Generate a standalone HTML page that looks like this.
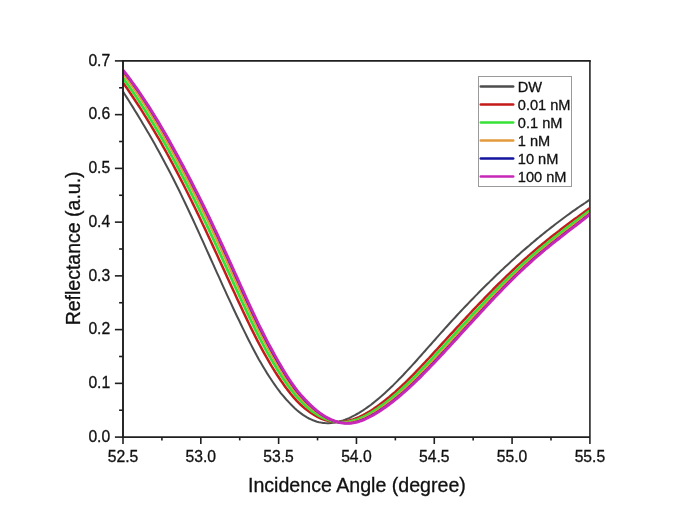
<!DOCTYPE html>
<html><head><meta charset="utf-8"><title>Reflectance vs Incidence Angle</title>
<style>
html,body{margin:0;padding:0;background:#fff;}
body{width:685px;height:524px;overflow:hidden;}
svg{display:block;}
text{font-family:"Liberation Sans",Arial,sans-serif;fill:#111;stroke:#111;stroke-width:0.3px;}
</style></head><body>
<svg width="685" height="524" viewBox="0 0 685 524">
<rect width="685" height="524" fill="#ffffff"/>
<defs><clipPath id="c"><rect x="123.0" y="60.9" width="466.9" height="376.20000000000005"/></clipPath></defs>
<g clip-path="url(#c)">
<path d="M123.0,91.6 L125.0,94.7 L127.0,97.9 L129.0,101.0 L131.0,104.2 L133.0,107.4 L135.0,110.7 L137.0,113.9 L139.0,117.2 L141.0,120.5 L143.0,123.9 L145.0,127.3 L147.0,130.7 L149.0,134.1 L151.0,137.6 L153.0,141.1 L155.0,144.6 L157.0,148.2 L159.0,151.8 L161.0,155.5 L163.0,159.2 L165.0,162.9 L167.0,166.7 L169.0,170.5 L171.0,174.4 L173.0,178.3 L175.0,182.3 L177.0,186.3 L179.0,190.3 L181.0,194.4 L183.0,198.6 L185.0,202.8 L187.0,207.0 L189.0,211.2 L191.0,215.5 L193.0,219.8 L195.0,224.2 L197.0,228.5 L199.0,232.9 L201.0,237.3 L203.0,241.7 L205.0,246.2 L207.0,250.6 L209.0,255.0 L211.0,259.5 L213.0,263.9 L215.0,268.4 L217.0,272.8 L219.0,277.2 L221.0,281.7 L223.0,286.1 L225.0,290.4 L227.0,294.8 L229.0,299.1 L231.0,303.4 L233.0,307.7 L235.0,312.0 L237.0,316.2 L239.0,320.3 L241.0,324.5 L243.0,328.6 L245.0,332.6 L247.0,336.7 L249.0,340.7 L251.0,344.6 L253.0,348.5 L255.0,352.3 L257.0,356.1 L259.0,359.7 L261.0,363.1 L263.0,366.5 L265.0,369.8 L267.0,373.1 L269.0,376.2 L271.0,379.3 L273.0,382.3 L275.0,385.2 L277.0,388.0 L279.0,390.7 L281.0,393.3 L283.0,395.7 L285.0,398.0 L287.0,400.3 L289.0,402.4 L291.0,404.5 L293.0,406.5 L295.0,408.4 L297.0,410.2 L299.0,411.9 L301.0,413.4 L303.0,414.9 L305.0,416.2 L307.0,417.4 L309.0,418.5 L311.0,419.4 L313.0,420.3 L315.0,421.0 L317.0,421.7 L319.0,422.2 L321.0,422.6 L323.0,422.9 L325.0,423.1 L327.0,423.2 L329.0,423.2 L331.0,423.0 L333.0,422.8 L335.0,422.5 L337.0,422.1 L339.0,421.6 L341.0,421.0 L343.0,420.4 L345.0,419.7 L347.0,418.9 L349.0,418.1 L351.0,417.2 L353.0,416.2 L355.0,415.2 L357.0,414.0 L359.0,412.9 L361.0,411.6 L363.0,410.4 L365.0,409.0 L367.0,407.6 L369.0,406.2 L371.0,404.7 L373.0,403.1 L375.0,401.5 L377.0,399.9 L379.0,398.2 L381.0,396.5 L383.0,394.7 L385.0,392.9 L387.0,391.1 L389.0,389.2 L391.0,387.3 L393.0,385.4 L395.0,383.4 L397.0,381.4 L399.0,379.3 L401.0,377.3 L403.0,375.2 L405.0,373.0 L407.0,370.9 L409.0,368.8 L411.0,366.6 L413.0,364.4 L415.0,362.2 L417.0,360.0 L419.0,357.7 L421.0,355.5 L423.0,353.2 L425.0,351.0 L427.0,348.7 L429.0,346.4 L431.0,344.2 L433.0,341.9 L435.0,339.7 L437.0,337.4 L439.0,335.1 L441.0,332.9 L443.0,330.7 L445.0,328.4 L447.0,326.2 L449.0,324.0 L451.0,321.8 L453.0,319.6 L455.0,317.5 L457.0,315.3 L459.0,313.1 L461.0,311.0 L463.0,308.9 L465.0,306.8 L467.0,304.7 L469.0,302.6 L471.0,300.5 L473.0,298.5 L475.0,296.4 L477.0,294.4 L479.0,292.3 L481.0,290.3 L483.0,288.3 L485.0,286.3 L487.0,284.3 L489.0,282.4 L491.0,280.4 L493.0,278.5 L495.0,276.5 L497.0,274.6 L499.0,272.7 L501.0,270.8 L503.0,269.0 L505.0,267.1 L507.0,265.2 L509.0,263.4 L511.0,261.6 L513.0,259.7 L515.0,257.9 L517.0,256.1 L519.0,254.4 L521.0,252.6 L523.0,250.8 L525.0,249.1 L527.0,247.4 L529.0,245.7 L531.0,243.9 L533.0,242.3 L535.0,240.6 L537.0,238.9 L539.0,237.3 L541.0,235.6 L543.0,234.0 L545.0,232.4 L547.0,230.8 L549.0,229.2 L551.0,227.6 L553.0,226.1 L555.0,224.5 L557.0,223.0 L559.0,221.5 L561.0,220.0 L563.0,218.5 L565.0,217.0 L567.0,215.5 L569.0,214.1 L571.0,212.6 L573.0,211.2 L575.0,209.8 L577.0,208.4 L579.0,207.0 L581.0,205.7 L583.0,204.3 L585.0,203.0 L587.0,201.6 L589.9,199.7" fill="none" stroke="#4d4d4d" stroke-width="2.05" stroke-linejoin="round"/>
<path d="M123.0,82.6 L125.0,85.5 L127.0,88.3 L129.0,91.2 L131.0,94.2 L133.0,97.2 L135.0,100.2 L137.0,103.2 L139.0,106.3 L141.0,109.4 L143.0,112.6 L145.0,115.8 L147.0,119.0 L149.0,122.3 L151.0,125.6 L153.0,129.0 L155.0,132.4 L157.0,135.8 L159.0,139.2 L161.0,142.7 L163.0,146.3 L165.0,149.9 L167.0,153.5 L169.0,157.1 L171.0,160.8 L173.0,164.5 L175.0,168.3 L177.0,172.1 L179.0,176.0 L181.0,179.9 L183.0,183.8 L185.0,187.8 L187.0,191.7 L189.0,195.8 L191.0,199.8 L193.0,203.9 L195.0,208.0 L197.0,212.1 L199.0,216.3 L201.0,220.5 L203.0,224.7 L205.0,228.9 L207.0,233.2 L209.0,237.5 L211.0,241.8 L213.0,246.1 L215.0,250.5 L217.0,254.8 L219.0,259.2 L221.0,263.6 L223.0,267.9 L225.0,272.3 L227.0,276.7 L229.0,281.0 L231.0,285.4 L233.0,289.7 L235.0,294.0 L237.0,298.4 L239.0,302.6 L241.0,306.9 L243.0,311.2 L245.0,315.4 L247.0,319.6 L249.0,323.7 L251.0,327.9 L253.0,331.9 L255.0,335.9 L257.0,339.9 L259.0,343.7 L261.0,347.4 L263.0,351.1 L265.0,354.7 L267.0,358.2 L269.0,361.7 L271.0,365.1 L273.0,368.3 L275.0,371.6 L277.0,374.7 L279.0,377.8 L281.0,380.8 L283.0,383.6 L285.0,386.4 L287.0,389.1 L289.0,391.6 L291.0,394.2 L293.0,396.6 L295.0,398.9 L297.0,401.1 L299.0,403.1 L301.0,405.0 L303.0,406.8 L305.0,408.5 L307.0,410.1 L309.0,411.6 L311.0,413.0 L313.0,414.3 L315.0,415.5 L317.0,416.6 L319.0,417.6 L321.0,418.5 L323.0,419.3 L325.0,420.0 L327.0,420.6 L329.0,421.1 L331.0,421.4 L333.0,421.7 L335.0,421.9 L337.0,422.0 L339.0,421.9 L341.0,421.8 L343.0,421.7 L345.0,421.4 L347.0,421.0 L349.0,420.6 L351.0,420.0 L353.0,419.4 L355.0,418.7 L357.0,417.9 L359.0,417.1 L361.0,416.1 L363.0,415.1 L365.0,414.0 L367.0,412.9 L369.0,411.7 L371.0,410.5 L373.0,409.2 L375.0,407.8 L377.0,406.4 L379.0,405.0 L381.0,403.5 L383.0,402.0 L385.0,400.4 L387.0,398.8 L389.0,397.2 L391.0,395.5 L393.0,393.8 L395.0,392.1 L397.0,390.3 L399.0,388.5 L401.0,386.6 L403.0,384.7 L405.0,382.8 L407.0,380.9 L409.0,378.9 L411.0,376.9 L413.0,374.9 L415.0,372.8 L417.0,370.7 L419.0,368.7 L421.0,366.5 L423.0,364.4 L425.0,362.3 L427.0,360.1 L429.0,358.0 L431.0,355.8 L433.0,353.6 L435.0,351.4 L437.0,349.3 L439.0,347.1 L441.0,344.9 L443.0,342.7 L445.0,340.5 L447.0,338.3 L449.0,336.1 L451.0,333.9 L453.0,331.8 L455.0,329.6 L457.0,327.4 L459.0,325.3 L461.0,323.1 L463.0,320.9 L465.0,318.8 L467.0,316.6 L469.0,314.5 L471.0,312.4 L473.0,310.2 L475.0,308.1 L477.0,306.0 L479.0,303.9 L481.0,301.8 L483.0,299.8 L485.0,297.7 L487.0,295.6 L489.0,293.6 L491.0,291.6 L493.0,289.5 L495.0,287.5 L497.0,285.5 L499.0,283.5 L501.0,281.6 L503.0,279.6 L505.0,277.7 L507.0,275.7 L509.0,273.8 L511.0,271.9 L513.0,270.0 L515.0,268.1 L517.0,266.2 L519.0,264.4 L521.0,262.6 L523.0,260.7 L525.0,258.9 L527.0,257.2 L529.0,255.4 L531.0,253.6 L533.0,251.9 L535.0,250.2 L537.0,248.5 L539.0,246.8 L541.0,245.2 L543.0,243.5 L545.0,241.9 L547.0,240.3 L549.0,238.7 L551.0,237.1 L553.0,235.5 L555.0,233.9 L557.0,232.4 L559.0,230.9 L561.0,229.3 L563.0,227.8 L565.0,226.3 L567.0,224.8 L569.0,223.3 L571.0,221.8 L573.0,220.3 L575.0,218.8 L577.0,217.4 L579.0,215.9 L581.0,214.4 L583.0,213.0 L585.0,211.5 L587.0,210.1 L589.9,207.9" fill="none" stroke="#c41a1a" stroke-width="2.5" stroke-linejoin="round"/>
<path d="M123.0,78.1 L125.0,80.8 L127.0,83.6 L129.0,86.4 L131.0,89.2 L133.0,92.1 L135.0,95.0 L137.0,98.0 L139.0,101.0 L141.0,104.1 L143.0,107.2 L145.0,110.3 L147.0,113.5 L149.0,116.7 L151.0,119.9 L153.0,123.2 L155.0,126.6 L157.0,129.9 L159.0,133.4 L161.0,136.8 L163.0,140.3 L165.0,143.8 L167.0,147.4 L169.0,151.0 L171.0,154.6 L173.0,158.3 L175.0,162.0 L177.0,165.7 L179.0,169.5 L181.0,173.3 L183.0,177.2 L185.0,181.0 L187.0,185.0 L189.0,188.9 L191.0,192.9 L193.0,196.9 L195.0,200.9 L197.0,205.0 L199.0,209.0 L201.0,213.1 L203.0,217.3 L205.0,221.5 L207.0,225.7 L209.0,229.9 L211.0,234.1 L213.0,238.4 L215.0,242.7 L217.0,247.0 L219.0,251.4 L221.0,255.7 L223.0,260.1 L225.0,264.4 L227.0,268.8 L229.0,273.2 L231.0,277.5 L233.0,281.9 L235.0,286.3 L237.0,290.6 L239.0,295.0 L241.0,299.3 L243.0,303.6 L245.0,307.9 L247.0,312.1 L249.0,316.4 L251.0,320.6 L253.0,324.7 L255.0,328.8 L257.0,332.8 L259.0,336.8 L261.0,340.6 L263.0,344.4 L265.0,348.1 L267.0,351.8 L269.0,355.4 L271.0,358.9 L273.0,362.3 L275.0,365.6 L277.0,368.9 L279.0,372.2 L281.0,375.3 L283.0,378.4 L285.0,381.3 L287.0,384.2 L289.0,387.0 L291.0,389.7 L293.0,392.2 L295.0,394.7 L297.0,397.1 L299.0,399.3 L301.0,401.3 L303.0,403.3 L305.0,405.2 L307.0,407.0 L309.0,408.7 L311.0,410.3 L313.0,411.8 L315.0,413.2 L317.0,414.5 L319.0,415.7 L321.0,416.8 L323.0,417.8 L325.0,418.7 L327.0,419.5 L329.0,420.2 L331.0,420.8 L333.0,421.2 L335.0,421.6 L337.0,421.9 L339.0,422.1 L341.0,422.2 L343.0,422.2 L345.0,422.1 L347.0,421.9 L349.0,421.6 L351.0,421.2 L353.0,420.7 L355.0,420.1 L357.0,419.5 L359.0,418.7 L361.0,417.9 L363.0,417.0 L365.0,416.0 L367.0,414.9 L369.0,413.8 L371.0,412.7 L373.0,411.4 L375.0,410.1 L377.0,408.8 L379.0,407.4 L381.0,406.0 L383.0,404.6 L385.0,403.1 L387.0,401.5 L389.0,400.0 L391.0,398.4 L393.0,396.7 L395.0,395.1 L397.0,393.3 L399.0,391.6 L401.0,389.8 L403.0,388.0 L405.0,386.1 L407.0,384.3 L409.0,382.3 L411.0,380.4 L413.0,378.4 L415.0,376.4 L417.0,374.4 L419.0,372.4 L421.0,370.3 L423.0,368.2 L425.0,366.1 L427.0,364.0 L429.0,361.9 L431.0,359.8 L433.0,357.6 L435.0,355.5 L437.0,353.3 L439.0,351.1 L441.0,349.0 L443.0,346.8 L445.0,344.6 L447.0,342.4 L449.0,340.2 L451.0,338.1 L453.0,335.9 L455.0,333.7 L457.0,331.5 L459.0,329.4 L461.0,327.2 L463.0,325.0 L465.0,322.9 L467.0,320.7 L469.0,318.6 L471.0,316.4 L473.0,314.3 L475.0,312.1 L477.0,310.0 L479.0,307.9 L481.0,305.7 L483.0,303.6 L485.0,301.5 L487.0,299.5 L489.0,297.4 L491.0,295.3 L493.0,293.3 L495.0,291.2 L497.0,289.2 L499.0,287.2 L501.0,285.2 L503.0,283.2 L505.0,281.2 L507.0,279.2 L509.0,277.2 L511.0,275.3 L513.0,273.4 L515.0,271.5 L517.0,269.6 L519.0,267.7 L521.0,265.8 L523.0,264.0 L525.0,262.2 L527.0,260.4 L529.0,258.6 L531.0,256.8 L533.0,255.1 L535.0,253.3 L537.0,251.6 L539.0,249.9 L541.0,248.3 L543.0,246.6 L545.0,245.0 L547.0,243.3 L549.0,241.7 L551.0,240.1 L553.0,238.5 L555.0,237.0 L557.0,235.4 L559.0,233.9 L561.0,232.3 L563.0,230.8 L565.0,229.2 L567.0,227.7 L569.0,226.2 L571.0,224.7 L573.0,223.2 L575.0,221.7 L577.0,220.2 L579.0,218.7 L581.0,217.2 L583.0,215.7 L585.0,214.2 L587.0,212.7 L589.9,210.5" fill="none" stroke="#36e236" stroke-width="2.8" stroke-linejoin="round"/>
<path d="M123.0,73.8 L125.0,76.4 L127.0,79.1 L129.0,81.8 L131.0,84.6 L133.0,87.4 L135.0,90.2 L137.0,93.1 L139.0,96.1 L141.0,99.1 L143.0,102.1 L145.0,105.2 L147.0,108.3 L149.0,111.5 L151.0,114.7 L153.0,118.0 L155.0,121.3 L157.0,124.6 L159.0,128.0 L161.0,131.4 L163.0,134.9 L165.0,138.4 L167.0,141.9 L169.0,145.5 L171.0,149.1 L173.0,152.7 L175.0,156.4 L177.0,160.1 L179.0,163.8 L181.0,167.6 L183.0,171.4 L185.0,175.2 L187.0,179.1 L189.0,183.0 L191.0,186.9 L193.0,190.8 L195.0,194.8 L197.0,198.8 L199.0,202.9 L201.0,206.9 L203.0,211.0 L205.0,215.1 L207.0,219.2 L209.0,223.4 L211.0,227.6 L213.0,231.8 L215.0,236.1 L217.0,240.4 L219.0,244.7 L221.0,249.0 L223.0,253.4 L225.0,257.7 L227.0,262.1 L229.0,266.5 L231.0,270.9 L233.0,275.2 L235.0,279.6 L237.0,284.0 L239.0,288.4 L241.0,292.8 L243.0,297.2 L245.0,301.5 L247.0,305.8 L249.0,310.1 L251.0,314.4 L253.0,318.6 L255.0,322.7 L257.0,326.8 L259.0,330.9 L261.0,334.8 L263.0,338.7 L265.0,342.5 L267.0,346.3 L269.0,350.0 L271.0,353.6 L273.0,357.1 L275.0,360.6 L277.0,364.0 L279.0,367.4 L281.0,370.7 L283.0,373.9 L285.0,377.0 L287.0,380.0 L289.0,383.0 L291.0,385.8 L293.0,388.6 L295.0,391.2 L297.0,393.7 L299.0,396.0 L301.0,398.2 L303.0,400.3 L305.0,402.3 L307.0,404.3 L309.0,406.1 L311.0,407.9 L313.0,409.6 L315.0,411.1 L317.0,412.6 L319.0,414.0 L321.0,415.3 L323.0,416.5 L325.0,417.5 L327.0,418.5 L329.0,419.4 L331.0,420.2 L333.0,420.8 L335.0,421.4 L337.0,421.9 L339.0,422.2 L341.0,422.5 L343.0,422.6 L345.0,422.7 L347.0,422.6 L349.0,422.5 L351.0,422.2 L353.0,421.8 L355.0,421.3 L357.0,420.8 L359.0,420.1 L361.0,419.4 L363.0,418.5 L365.0,417.6 L367.0,416.7 L369.0,415.6 L371.0,414.5 L373.0,413.3 L375.0,412.1 L377.0,410.8 L379.0,409.5 L381.0,408.2 L383.0,406.8 L385.0,405.3 L387.0,403.8 L389.0,402.3 L391.0,400.8 L393.0,399.2 L395.0,397.6 L397.0,395.9 L399.0,394.2 L401.0,392.5 L403.0,390.7 L405.0,388.9 L407.0,387.1 L409.0,385.2 L411.0,383.3 L413.0,381.4 L415.0,379.4 L417.0,377.5 L419.0,375.5 L421.0,373.4 L423.0,371.4 L425.0,369.3 L427.0,367.2 L429.0,365.2 L431.0,363.0 L433.0,360.9 L435.0,358.8 L437.0,356.7 L439.0,354.5 L441.0,352.3 L443.0,350.2 L445.0,348.0 L447.0,345.9 L449.0,343.7 L451.0,341.5 L453.0,339.3 L455.0,337.2 L457.0,335.0 L459.0,332.8 L461.0,330.6 L463.0,328.4 L465.0,326.3 L467.0,324.1 L469.0,321.9 L471.0,319.8 L473.0,317.6 L475.0,315.4 L477.0,313.3 L479.0,311.1 L481.0,309.0 L483.0,306.9 L485.0,304.7 L487.0,302.6 L489.0,300.5 L491.0,298.4 L493.0,296.3 L495.0,294.3 L497.0,292.2 L499.0,290.1 L501.0,288.1 L503.0,286.1 L505.0,284.1 L507.0,282.1 L509.0,280.1 L511.0,278.1 L513.0,276.1 L515.0,274.2 L517.0,272.3 L519.0,270.4 L521.0,268.5 L523.0,266.6 L525.0,264.8 L527.0,262.9 L529.0,261.1 L531.0,259.3 L533.0,257.6 L535.0,255.8 L537.0,254.1 L539.0,252.4 L541.0,250.7 L543.0,249.1 L545.0,247.4 L547.0,245.8 L549.0,244.1 L551.0,242.5 L553.0,240.9 L555.0,239.4 L557.0,237.8 L559.0,236.2 L561.0,234.7 L563.0,233.1 L565.0,231.6 L567.0,230.0 L569.0,228.5 L571.0,227.0 L573.0,225.4 L575.0,223.9 L577.0,222.4 L579.0,220.9 L581.0,219.3 L583.0,217.8 L585.0,216.3 L587.0,214.7 L589.9,212.5" fill="none" stroke="#e39a3c" stroke-width="2.4" stroke-linejoin="round"/>
<path d="M123.0,70.7 L125.0,73.2 L127.0,75.8 L129.0,78.5 L131.0,81.1 L133.0,83.9 L135.0,86.7 L137.0,89.5 L139.0,92.4 L141.0,95.4 L143.0,98.4 L145.0,101.4 L147.0,104.5 L149.0,107.6 L151.0,110.8 L153.0,114.0 L155.0,117.3 L157.0,120.6 L159.0,123.9 L161.0,127.3 L163.0,130.7 L165.0,134.2 L167.0,137.7 L169.0,141.2 L171.0,144.7 L173.0,148.3 L175.0,151.9 L177.0,155.6 L179.0,159.3 L181.0,163.0 L183.0,166.8 L185.0,170.5 L187.0,174.3 L189.0,178.2 L191.0,182.0 L193.0,185.9 L195.0,189.9 L197.0,193.8 L199.0,197.8 L201.0,201.8 L203.0,205.8 L205.0,209.9 L207.0,214.0 L209.0,218.1 L211.0,222.3 L213.0,226.5 L215.0,230.8 L217.0,235.0 L219.0,239.3 L221.0,243.7 L223.0,248.0 L225.0,252.4 L227.0,256.8 L229.0,261.2 L231.0,265.6 L233.0,270.0 L235.0,274.4 L237.0,278.9 L239.0,283.3 L241.0,287.7 L243.0,292.2 L245.0,296.6 L247.0,301.0 L249.0,305.3 L251.0,309.6 L253.0,313.9 L255.0,318.1 L257.0,322.3 L259.0,326.4 L261.0,330.4 L263.0,334.4 L265.0,338.3 L267.0,342.2 L269.0,346.0 L271.0,349.7 L273.0,353.3 L275.0,356.9 L277.0,360.4 L279.0,363.9 L281.0,367.3 L283.0,370.6 L285.0,373.8 L287.0,377.0 L289.0,380.1 L291.0,383.0 L293.0,385.9 L295.0,388.7 L297.0,391.3 L299.0,393.7 L301.0,396.0 L303.0,398.2 L305.0,400.3 L307.0,402.4 L309.0,404.4 L311.0,406.2 L313.0,408.0 L315.0,409.7 L317.0,411.3 L319.0,412.8 L321.0,414.2 L323.0,415.5 L325.0,416.8 L327.0,417.9 L329.0,418.9 L331.0,419.8 L333.0,420.6 L335.0,421.3 L337.0,421.8 L339.0,422.3 L341.0,422.7 L343.0,422.9 L345.0,423.1 L347.0,423.1 L349.0,423.1 L351.0,422.9 L353.0,422.6 L355.0,422.2 L357.0,421.7 L359.0,421.1 L361.0,420.4 L363.0,419.6 L365.0,418.8 L367.0,417.8 L369.0,416.8 L371.0,415.8 L373.0,414.6 L375.0,413.5 L377.0,412.2 L379.0,411.0 L381.0,409.6 L383.0,408.3 L385.0,406.9 L387.0,405.4 L389.0,404.0 L391.0,402.4 L393.0,400.9 L395.0,399.3 L397.0,397.7 L399.0,396.0 L401.0,394.3 L403.0,392.6 L405.0,390.9 L407.0,389.1 L409.0,387.2 L411.0,385.4 L413.0,383.5 L415.0,381.6 L417.0,379.6 L419.0,377.7 L421.0,375.7 L423.0,373.6 L425.0,371.6 L427.0,369.5 L429.0,367.5 L431.0,365.4 L433.0,363.3 L435.0,361.2 L437.0,359.1 L439.0,356.9 L441.0,354.8 L443.0,352.6 L445.0,350.5 L447.0,348.3 L449.0,346.2 L451.0,344.0 L453.0,341.8 L455.0,339.6 L457.0,337.5 L459.0,335.3 L461.0,333.1 L463.0,330.9 L465.0,328.7 L467.0,326.6 L469.0,324.4 L471.0,322.2 L473.0,320.0 L475.0,317.9 L477.0,315.7 L479.0,313.5 L481.0,311.4 L483.0,309.2 L485.0,307.1 L487.0,305.0 L489.0,302.8 L491.0,300.7 L493.0,298.6 L495.0,296.5 L497.0,294.4 L499.0,292.3 L501.0,290.3 L503.0,288.2 L505.0,286.2 L507.0,284.2 L509.0,282.2 L511.0,280.2 L513.0,278.2 L515.0,276.2 L517.0,274.3 L519.0,272.4 L521.0,270.4 L523.0,268.6 L525.0,266.7 L527.0,264.9 L529.0,263.0 L531.0,261.2 L533.0,259.4 L535.0,257.7 L537.0,256.0 L539.0,254.2 L541.0,252.5 L543.0,250.9 L545.0,249.2 L547.0,247.6 L549.0,245.9 L551.0,244.3 L553.0,242.7 L555.0,241.1 L557.0,239.5 L559.0,238.0 L561.0,236.4 L563.0,234.8 L565.0,233.3 L567.0,231.7 L569.0,230.2 L571.0,228.7 L573.0,227.1 L575.0,225.6 L577.0,224.0 L579.0,222.5 L581.0,220.9 L583.0,219.4 L585.0,217.8 L587.0,216.2 L589.9,214.0" fill="none" stroke="#1414a0" stroke-width="2.4" stroke-linejoin="round"/>
<path d="M123.0,70.2 L125.0,72.7 L127.0,75.2 L129.0,77.9 L131.0,80.5 L133.0,83.3 L135.0,86.0 L137.0,88.9 L139.0,91.8 L141.0,94.7 L143.0,97.7 L145.0,100.7 L147.0,103.8 L149.0,106.9 L151.0,110.1 L153.0,113.3 L155.0,116.5 L157.0,119.8 L159.0,123.1 L161.0,126.5 L163.0,129.9 L165.0,133.3 L167.0,136.8 L169.0,140.3 L171.0,143.9 L173.0,147.5 L175.0,151.1 L177.0,154.7 L179.0,158.4 L181.0,162.1 L183.0,165.8 L185.0,169.6 L187.0,173.4 L189.0,177.2 L191.0,181.0 L193.0,184.9 L195.0,188.8 L197.0,192.7 L199.0,196.7 L201.0,200.7 L203.0,204.7 L205.0,208.7 L207.0,212.8 L209.0,216.9 L211.0,221.1 L213.0,225.3 L215.0,229.5 L217.0,233.7 L219.0,238.0 L221.0,242.3 L223.0,246.7 L225.0,251.0 L227.0,255.4 L229.0,259.8 L231.0,264.2 L233.0,268.6 L235.0,273.0 L237.0,277.4 L239.0,281.9 L241.0,286.3 L243.0,290.7 L245.0,295.1 L247.0,299.5 L249.0,303.9 L251.0,308.2 L253.0,312.4 L255.0,316.7 L257.0,320.8 L259.0,325.0 L261.0,329.0 L263.0,333.0 L265.0,336.9 L267.0,340.8 L269.0,344.6 L271.0,348.3 L273.0,352.0 L275.0,355.6 L277.0,359.1 L279.0,362.6 L281.0,366.0 L283.0,369.4 L285.0,372.7 L287.0,375.9 L289.0,379.0 L291.0,382.0 L293.0,384.9 L295.0,387.7 L297.0,390.3 L299.0,392.8 L301.0,395.1 L303.0,397.3 L305.0,399.5 L307.0,401.6 L309.0,403.6 L311.0,405.5 L313.0,407.4 L315.0,409.1 L317.0,410.8 L319.0,412.3 L321.0,413.8 L323.0,415.1 L325.0,416.4 L327.0,417.6 L329.0,418.6 L331.0,419.6 L333.0,420.4 L335.0,421.2 L337.0,421.8 L339.0,422.4 L341.0,422.8 L343.0,423.1 L345.0,423.3 L347.0,423.4 L349.0,423.3 L351.0,423.2 L353.0,422.9 L355.0,422.5 L357.0,422.1 L359.0,421.5 L361.0,420.8 L363.0,420.1 L365.0,419.2 L367.0,418.3 L369.0,417.3 L371.0,416.3 L373.0,415.2 L375.0,414.0 L377.0,412.8 L379.0,411.5 L381.0,410.2 L383.0,408.8 L385.0,407.5 L387.0,406.0 L389.0,404.5 L391.0,403.0 L393.0,401.5 L395.0,399.9 L397.0,398.3 L399.0,396.6 L401.0,395.0 L403.0,393.2 L405.0,391.5 L407.0,389.7 L409.0,387.9 L411.0,386.0 L413.0,384.2 L415.0,382.3 L417.0,380.3 L419.0,378.4 L421.0,376.4 L423.0,374.3 L425.0,372.3 L427.0,370.3 L429.0,368.2 L431.0,366.1 L433.0,364.0 L435.0,361.9 L437.0,359.8 L439.0,357.7 L441.0,355.5 L443.0,353.4 L445.0,351.2 L447.0,349.1 L449.0,346.9 L451.0,344.7 L453.0,342.5 L455.0,340.4 L457.0,338.2 L459.0,336.0 L461.0,333.8 L463.0,331.6 L465.0,329.4 L467.0,327.3 L469.0,325.1 L471.0,322.9 L473.0,320.7 L475.0,318.5 L477.0,316.4 L479.0,314.2 L481.0,312.0 L483.0,309.9 L485.0,307.7 L487.0,305.6 L489.0,303.5 L491.0,301.3 L493.0,299.2 L495.0,297.1 L497.0,295.0 L499.0,292.9 L501.0,290.9 L503.0,288.8 L505.0,286.8 L507.0,284.7 L509.0,282.7 L511.0,280.7 L513.0,278.8 L515.0,276.8 L517.0,274.8 L519.0,272.9 L521.0,271.0 L523.0,269.1 L525.0,267.2 L527.0,265.4 L529.0,263.6 L531.0,261.8 L533.0,260.0 L535.0,258.2 L537.0,256.5 L539.0,254.8 L541.0,253.1 L543.0,251.4 L545.0,249.7 L547.0,248.1 L549.0,246.5 L551.0,244.8 L553.0,243.2 L555.0,241.6 L557.0,240.1 L559.0,238.5 L561.0,236.9 L563.0,235.3 L565.0,233.8 L567.0,232.2 L569.0,230.7 L571.0,229.1 L573.0,227.6 L575.0,226.1 L577.0,224.5 L579.0,223.0 L581.0,221.4 L583.0,219.8 L585.0,218.3 L587.0,216.7 L589.9,214.4" fill="none" stroke="#c828b8" stroke-width="2.9" stroke-linejoin="round"/>
</g>
<path d="M589.9,60.9 L589.9,444.0" fill="none" stroke="#3d3d3d" stroke-width="1.8"/>
<path d="M590.8,60.9 L123.0,60.9 L123.0,437.1 L589.9,437.1" fill="none" stroke="#1f1f1f" stroke-width="1.9" stroke-linejoin="miter"/>
<g stroke="#1f1f1f" stroke-width="1.6">
<line x1="123.00" y1="437.1" x2="123.00" y2="444.0"/>
<line x1="161.91" y1="437.1" x2="161.91" y2="440.40000000000003"/>
<line x1="200.82" y1="437.1" x2="200.82" y2="444.0"/>
<line x1="239.72" y1="437.1" x2="239.72" y2="440.40000000000003"/>
<line x1="278.63" y1="437.1" x2="278.63" y2="444.0"/>
<line x1="317.54" y1="437.1" x2="317.54" y2="440.40000000000003"/>
<line x1="356.45" y1="437.1" x2="356.45" y2="444.0"/>
<line x1="395.36" y1="437.1" x2="395.36" y2="440.40000000000003"/>
<line x1="434.27" y1="437.1" x2="434.27" y2="444.0"/>
<line x1="473.17" y1="437.1" x2="473.17" y2="440.40000000000003"/>
<line x1="512.08" y1="437.1" x2="512.08" y2="444.0"/>
<line x1="550.99" y1="437.1" x2="550.99" y2="440.40000000000003"/>
<line x1="123.0" y1="437.10" x2="114.9" y2="437.10"/>
<line x1="123.0" y1="410.23" x2="119.1" y2="410.23"/>
<line x1="123.0" y1="383.36" x2="114.9" y2="383.36"/>
<line x1="123.0" y1="356.49" x2="119.1" y2="356.49"/>
<line x1="123.0" y1="329.61" x2="114.9" y2="329.61"/>
<line x1="123.0" y1="302.74" x2="119.1" y2="302.74"/>
<line x1="123.0" y1="275.87" x2="114.9" y2="275.87"/>
<line x1="123.0" y1="249.00" x2="119.1" y2="249.00"/>
<line x1="123.0" y1="222.13" x2="114.9" y2="222.13"/>
<line x1="123.0" y1="195.26" x2="119.1" y2="195.26"/>
<line x1="123.0" y1="168.39" x2="114.9" y2="168.39"/>
<line x1="123.0" y1="141.51" x2="119.1" y2="141.51"/>
<line x1="123.0" y1="114.64" x2="114.9" y2="114.64"/>
<line x1="123.0" y1="87.77" x2="119.1" y2="87.77"/>
<line x1="123.0" y1="60.90" x2="114.9" y2="60.90"/>
</g>
<g font-size="15.7px">
<text x="123.0" y="461.9" text-anchor="middle">52.5</text>
<text x="200.8" y="461.9" text-anchor="middle">53.0</text>
<text x="278.6" y="461.9" text-anchor="middle">53.5</text>
<text x="356.4" y="461.9" text-anchor="middle">54.0</text>
<text x="434.3" y="461.9" text-anchor="middle">54.5</text>
<text x="512.1" y="461.9" text-anchor="middle">55.0</text>
<text x="589.9" y="461.9" text-anchor="middle">55.5</text>
<text x="110.2" y="441.8" text-anchor="end">0.0</text>
<text x="110.2" y="388.1" text-anchor="end">0.1</text>
<text x="110.2" y="334.3" text-anchor="end">0.2</text>
<text x="110.2" y="280.6" text-anchor="end">0.3</text>
<text x="110.2" y="226.8" text-anchor="end">0.4</text>
<text x="110.2" y="173.1" text-anchor="end">0.5</text>
<text x="110.2" y="119.3" text-anchor="end">0.6</text>
<text x="110.2" y="65.6" text-anchor="end">0.7</text>
</g>
<rect x="478.5" y="76.5" width="93" height="110" fill="#ffffff" stroke="#9a9a9a" stroke-width="1"/>
<g font-size="14.6px">
<line x1="480.8" y1="86.6" x2="513.2" y2="86.6" stroke="#4d4d4d" stroke-width="2.5" stroke-linecap="round"/>
<text x="517.8" y="91.8">DW</text>
<line x1="480.8" y1="104.6" x2="513.2" y2="104.6" stroke="#c41a1a" stroke-width="2.5" stroke-linecap="round"/>
<text x="517.8" y="109.8">0.01 nM</text>
<line x1="480.8" y1="122.6" x2="513.2" y2="122.6" stroke="#36e236" stroke-width="2.5" stroke-linecap="round"/>
<text x="517.8" y="127.8">0.1 nM</text>
<line x1="480.8" y1="140.6" x2="513.2" y2="140.6" stroke="#e39a3c" stroke-width="2.5" stroke-linecap="round"/>
<text x="517.8" y="145.8">1 nM</text>
<line x1="480.8" y1="158.6" x2="513.2" y2="158.6" stroke="#1414a0" stroke-width="2.5" stroke-linecap="round"/>
<text x="517.8" y="163.8">10 nM</text>
<line x1="480.8" y1="176.6" x2="513.2" y2="176.6" stroke="#c828b8" stroke-width="2.5" stroke-linecap="round"/>
<text x="517.8" y="181.8">100 nM</text>
</g>
<text x="356.9" y="492" text-anchor="middle" font-size="19.6px">Incidence Angle (degree)</text>
<text transform="translate(80,248.4) rotate(-90)" text-anchor="middle" font-size="19.5px">Reflectance (a.u.)</text>
</svg>
</body></html>
